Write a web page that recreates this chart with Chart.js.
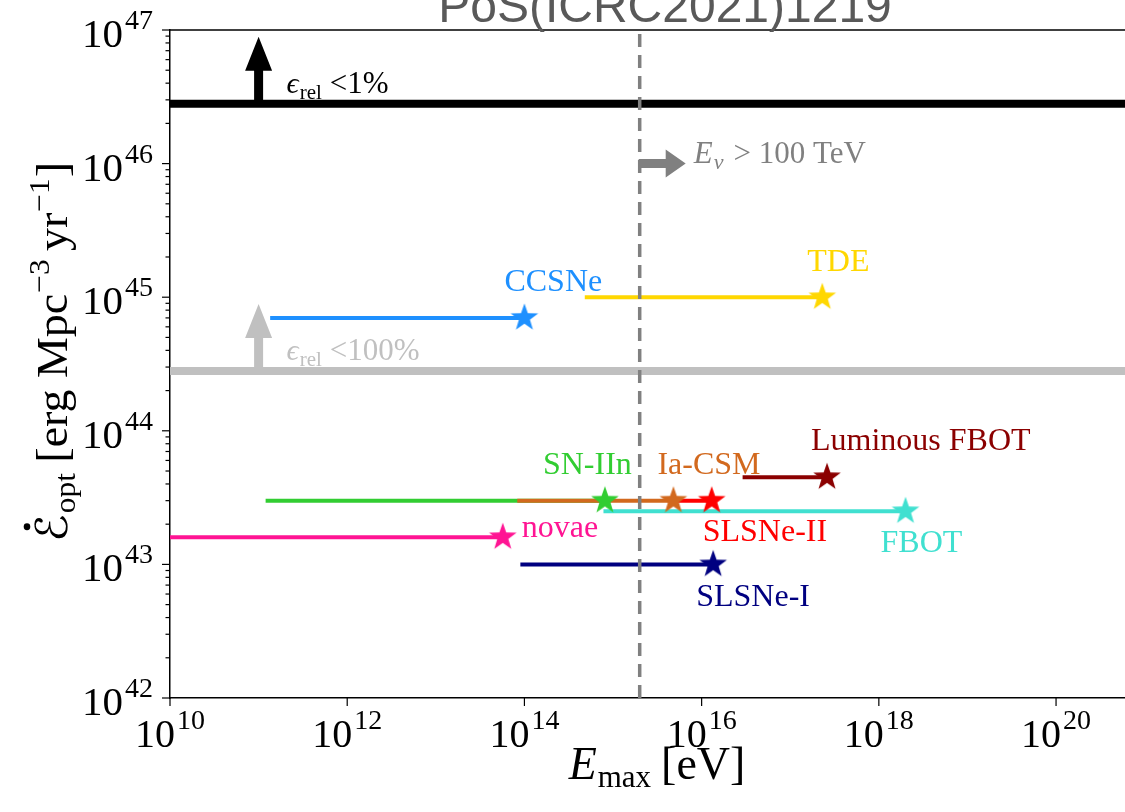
<!DOCTYPE html>
<html>
<head>
<meta charset="utf-8">
<title>Optical emissivity vs maximal energy</title>
<script src="https://cdn.jsdelivr.net/npm/chart.js@4.4.0/dist/chart.umd.min.js"></script>
<style>
  html, body { margin: 0; padding: 0; background: #fff; }
  #wrap { width: 1125px; height: 812px; }
</style>
</head>
<body>
<div id="wrap"><canvas id="chart" width="1125" height="812"></canvas></div>
<script>
// Source classes
const sources = ['CCSNe', 'TDE', 'SN-IIn', 'Ia-CSM', 'SLSNe-II', 'Luminous FBOT', 'FBOT', 'novae', 'SLSNe-I'];
const emaxLow = [1.35e11, 4.8e14, 1.2e11, 8.3e13, 5.3e15, 2.9e16, 7.8e14, 1e10, 9e13];
const emaxHigh = [1e14, 2.3e17, 8.1e14, 4.8e15, 1.3e16, 2.6e17, 2e18, 5.7e13, 1.35e16];
const emissivity = [7e44, 1e45, 3e43, 3e43, 3e43, 4.5e43, 2.5e43, 1.6e43, 1e43];
const colors = ['#1e90ff', '#ffd700', '#32cd32', '#d2691e', '#ff0000', '#8b0000', '#40e0d0', '#ff1493', '#000080'];

// Reference levels
const effLimits = [2.8e46, 2.8e44];       // eps_rel < 1%, < 100%
const effLabels = ['<1%', '<100%'];
const effColors = ['#000000', '#c0c0c0'];
const arrowEnergy = 1e11;
const nuThreshold = 2e15;                 // E_nu > 100 TeV

// Axes
const xMin = 1e10, xMax = 6e20;
const yMin = 1e42, yMax = 1e47;
const xTickExp = [10, 12, 14, 16, 18, 20];
const yTickExp = [42, 43, 44, 45, 46, 47];

// label placement relative to each star (pixels)
const labelDx = [-20, -15, -62, -16, -9, -16, -25, 19, -17];
const labelDy = [-27, -26, -27, -27, 40, -27, 41, 0, 42];

const SERIF = '"Liberation Serif", "DejaVu Serif", serif';

function makeStar(color) {
    const c = document.createElement('canvas');
    c.width = 32; c.height = 32;
    const g = c.getContext('2d');
    const R = 14.5, r = 5.8;
    g.beginPath();
    for (let k = 0; k < 10; k++) {
        const a = -Math.PI / 2 + k * Math.PI / 5;
        const rad = k % 2 === 0 ? R : r;
        g.lineTo(16 + rad * Math.cos(a), 16 + rad * Math.sin(a));
    }
    g.closePath();
    g.fillStyle = color;
    g.fill();
    return c;
}

const datasets = [];

// horizontal efficiency limits
effLimits.forEach((v, i) => {
    datasets.push({
        data: [{ x: xMin, y: v }, { x: xMax, y: v }],
        borderColor: effColors[i],
        borderWidth: 8,
        pointRadius: 0,
        order: 100 + i
    });
});

// source segments
sources.forEach((s, i) => {
    datasets.push({
        label: s,
        data: [{ x: emaxLow[i], y: emissivity[i] }, { x: emaxHigh[i], y: emissivity[i] }],
        borderColor: colors[i],
        borderWidth: 4,
        pointRadius: 0,
        order: 80 - i
    });
});

// stars at the maximal energy
sources.forEach((s, i) => {
    datasets.push({
        label: s + ' max',
        data: [{ x: emaxHigh[i], y: emissivity[i] }],
        showLine: false,
        pointStyle: makeStar(colors[i]),
        pointRadius: 14,
        order: 40 - i
    });
});

// neutrino threshold
datasets.push({
    data: [{ x: nuThreshold, y: yMin }, { x: nuThreshold, y: yMax }],
    borderColor: '#808080',
    borderWidth: 3.5,
    borderDash: [13, 8],
    pointRadius: 0,
    order: 0
});

function drawRuns(ctx, runs, x, y, align) {
    let total = 0;
    runs.forEach(r => {
        ctx.font = r.font;
        r.w = ctx.measureText(r.t).width;
        total += r.w + (r.gap || 0);
    });
    let cx = align === 'center' ? x - total / 2 : (align === 'right' ? x - total : x);
    runs.forEach(r => {
        ctx.font = r.font;
        ctx.fillText(r.t, cx, y + (r.dy || 0));
        cx += r.w + (r.gap || 0);
    });
    return total;
}

function arrow(ctx, x0, y0, x1, y1, shaft, headW, headL, color) {
    const ang = Math.atan2(y1 - y0, x1 - x0);
    const len = Math.hypot(x1 - x0, y1 - y0);
    ctx.save();
    ctx.translate(x0, y0);
    ctx.rotate(ang);
    ctx.fillStyle = color;
    ctx.beginPath();
    ctx.moveTo(0, -shaft / 2);
    ctx.lineTo(len - headL, -shaft / 2);
    ctx.lineTo(len - headL, -headW / 2);
    ctx.lineTo(len, 0);
    ctx.lineTo(len - headL, headW / 2);
    ctx.lineTo(len - headL, shaft / 2);
    ctx.lineTo(0, shaft / 2);
    ctx.closePath();
    ctx.fill();
    ctx.restore();
}

const decorPlugin = {
    id: 'decor',
    afterDatasetsDraw(chart) {
        const { ctx, chartArea: a, scales: { x, y } } = chart;
        ctx.save();
        ctx.textBaseline = 'alphabetic';

        // top spine
        ctx.strokeStyle = '#000';
        ctx.lineWidth = 1.5;
        ctx.beginPath();
        ctx.moveTo(a.left, a.top);
        ctx.lineTo(a.right, a.top);
        ctx.stroke();

        // y ticks, major and minor, pointing outward
        ctx.lineWidth = 1.2;
        for (let e = 42; e < 47; e++) {
            for (let m = 1; m <= 9; m++) {
                const py = y.getPixelForValue(m * Math.pow(10, e));
                const len = m === 1 ? 8 : 4.5;
                ctx.beginPath();
                ctx.moveTo(a.left, py);
                ctx.lineTo(a.left - len, py);
                ctx.stroke();
            }
        }
        const pTop = y.getPixelForValue(yMax);
        ctx.beginPath(); ctx.moveTo(a.left, pTop); ctx.lineTo(a.left - 8, pTop); ctx.stroke();

        // x ticks
        xTickExp.forEach(e => {
            const px = x.getPixelForValue(Math.pow(10, e));
            ctx.beginPath();
            ctx.moveTo(px, a.bottom);
            ctx.lineTo(px, a.bottom + 8);
            ctx.stroke();
        });

        // tick labels
        ctx.fillStyle = '#000';
        yTickExp.forEach(e => {
            const py = y.getPixelForValue(Math.pow(10, e));
            drawRuns(ctx, [
                { t: '10', font: '41px ' + SERIF, gap: 2 },
                { t: String(e), font: '28px ' + SERIF, dy: -18 }
            ], a.left - 17, py + 17, 'right');
        });
        xTickExp.forEach(e => {
            const px = x.getPixelForValue(Math.pow(10, e));
            drawRuns(ctx, [
                { t: '10', font: '40px ' + SERIF, gap: 2 },
                { t: String(e), font: '28px ' + SERIF, dy: -18 }
            ], px, a.bottom + 49, 'center');
        });

        // axis titles
        drawRuns(ctx, [
            { t: 'E', font: 'italic 46px ' + SERIF, gap: 1 },
            { t: 'max', font: '31px ' + SERIF, dy: 8, gap: 10 },
            { t: '[eV]', font: '46px ' + SERIF }
        ], 657, 779, 'center');

        ctx.save();
        ctx.translate(67, 352);
        ctx.rotate(-Math.PI / 2);
        const yRuns = [
            { t: '\u2130', font: '44px "DejaVu Sans", sans-serif', gap: 1 },
            { t: 'opt', font: '30px ' + SERIF, dy: 8, gap: 10 },
            { t: '[erg Mpc', font: '44px ' + SERIF, gap: 1 },
            { t: '\u22123', font: '30px ' + SERIF, dy: -18, gap: 8 },
            { t: 'yr', font: '44px ' + SERIF, gap: 1 },
            { t: '\u22121', font: '30px ' + SERIF, dy: -18, gap: 1 },
            { t: ']', font: '44px ' + SERIF }
        ];
        let tw = 0;
        yRuns.forEach(r => { ctx.font = r.font; tw += ctx.measureText(r.t).width + (r.gap || 0); });
        ctx.font = yRuns[0].font;
        const ew = ctx.measureText(yRuns[0].t).width;
        const sx = 380 / tw;
        ctx.scale(sx, 1);
        drawRuns(ctx, yRuns, 0, 0, 'center');
        // dot over the script E
        ctx.beginPath();
        ctx.arc(-tw / 2 + ew * 0.55, -40, 3.3, 0, Math.PI * 2);
        ctx.fill();
        ctx.restore();

        // efficiency arrows and labels
        const ax = x.getPixelForValue(arrowEnergy);
        effLimits.forEach((v, i) => {
            const py = y.getPixelForValue(v);
            arrow(ctx, ax, py, ax, py - 67, 9, 27, 34, effColors[i]);
            ctx.fillStyle = effColors[i];
            drawRuns(ctx, [
                { t: '\u03f5', font: 'italic 30px ' + SERIF, gap: 1 },
                { t: 'rel', font: '21px ' + SERIF, dy: 6, gap: 8 },
                { t: effLabels[i], font: '31px ' + SERIF }
            ], ax + 28, py - 11, 'left');
        });

        // neutrino threshold arrow
        const nx = x.getPixelForValue(nuThreshold);
        const ny = y.getPixelForValue(1e46);
        arrow(ctx, nx - 1, ny, nx + 46, ny, 9, 28, 20, '#808080');
        ctx.fillStyle = '#808080';
        drawRuns(ctx, [
            { t: 'E', font: 'italic 31px ' + SERIF, gap: 1 },
            { t: '\u03bd', font: 'italic 22px ' + SERIF, dy: 6, gap: 10 },
            { t: '> 100 TeV', font: '31px ' + SERIF }
        ], nx + 54, ny - 1, 'left');

        // source labels
        sources.forEach((s, i) => {
            const px = x.getPixelForValue(emaxHigh[i]);
            const py = y.getPixelForValue(emissivity[i]);
            ctx.fillStyle = colors[i];
            ctx.font = '32px ' + SERIF;
            ctx.fillText(s, px + labelDx[i], py + labelDy[i]);
        });

        // watermark title
        ctx.fillStyle = '#595959';
        ctx.font = '48px "Liberation Sans", Arial, sans-serif';
        ctx.textAlign = 'center';
        ctx.fillText('PoS(ICRC2021)1219', 665, 22);

        ctx.restore();
    }
};

new Chart(document.getElementById('chart'), {
    type: 'scatter',
    data: { datasets: datasets },
    options: {
        responsive: false,
        animation: false,
        showLine: true,
        layout: { autoPadding: false, padding: { top: 30, right: 0, left: 0, bottom: 0 } },
        plugins: {
            legend: { display: false },
            tooltip: { enabled: false }
        },
        scales: {
            x: {
                type: 'logarithmic',
                min: xMin,
                max: xMax,
                grid: { display: false },
                ticks: { display: false },
                border: { color: '#000', width: 1.5 },
                afterFit: s => { s.height = 114; }
            },
            y: {
                type: 'logarithmic',
                min: yMin,
                max: yMax,
                grid: { display: false },
                ticks: { display: false },
                border: { color: '#000', width: 1.5 },
                afterFit: s => { s.width = 170; }
            }
        }
    },
    plugins: [decorPlugin]
});
</script>
</body>
</html>
